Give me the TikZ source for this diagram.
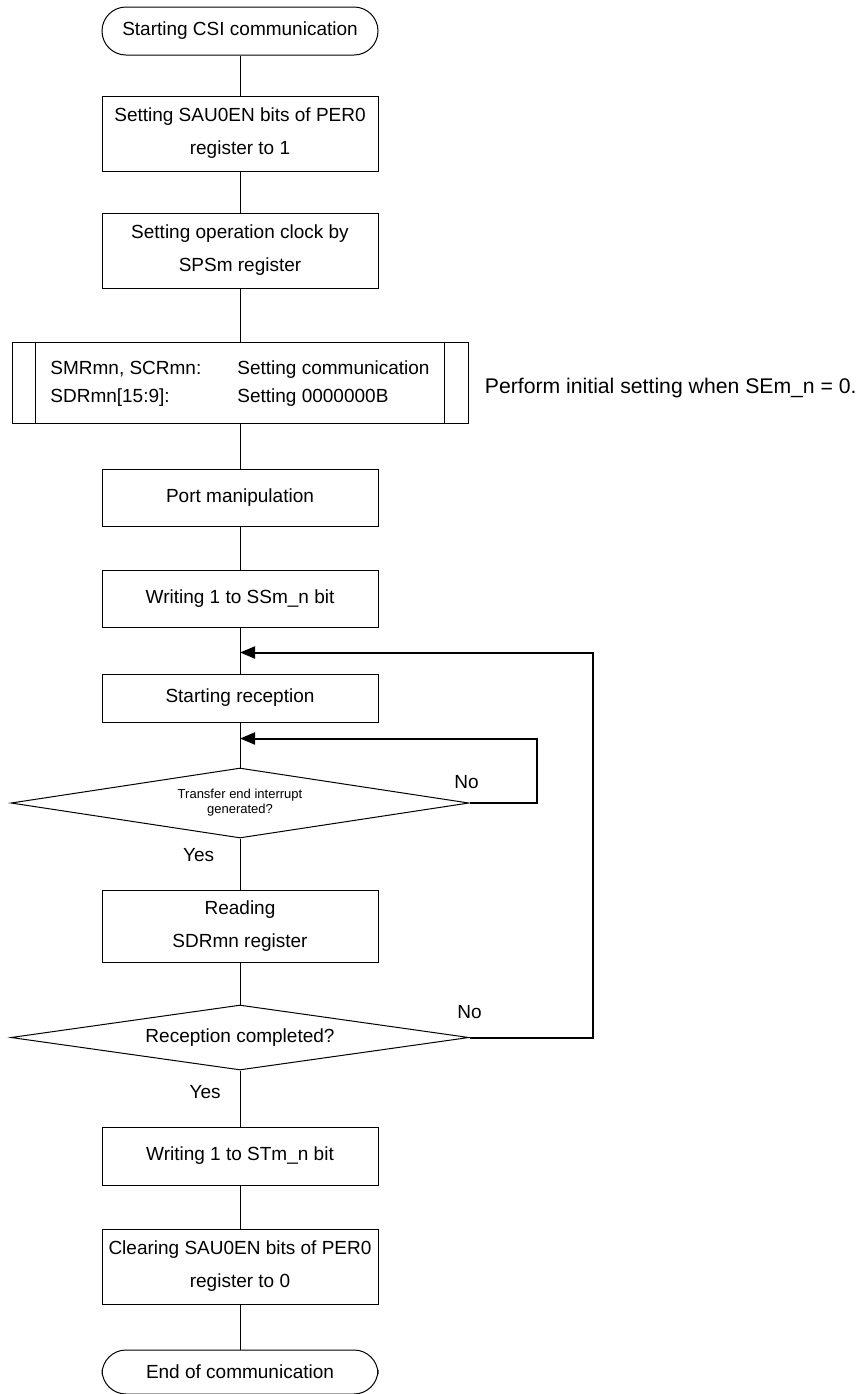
\documentclass[tikz,border=0pt]{standalone}
\usepackage{fontspec}
\setmainfont{Liberation Sans}
\usetikzlibrary{positioning,arrows.meta,shapes.geometric}

\begin{document}
\begin{tikzpicture}[x=0.5pt, y=0.5pt, node distance=22pt,
  box/.style={draw, line width=0.5pt, inner sep=0pt, minimum width=138pt, align=center, font=\fontsize{9.5}{16.5}\selectfont},
  term/.style={box, rounded corners=12pt, minimum height=24pt},
  dec/.style={draw, line width=0.5pt, diamond, aspect=7, inner sep=0pt, minimum width=229pt, align=center},
  lbl/.style={inner sep=0pt, font=\fontsize{9.5}{11}\selectfont},
  loopline/.style={line width=1pt, -{Triangle[length=7.5pt,width=6pt]}}]
\useasboundingbox (0,0) rectangle (861,-1394);

\node[term] (start) at (240,-31) {Starting CSI communication};
\node[box, minimum height=37.5pt, below=20pt of start] (per) {Setting SAU0EN bits of PER0\\register to 1};
\node[box, minimum height=37.5pt, below=20.5pt of per] (sps) {Setting operation clock by\\SPSm register};
\node[box, minimum width=228pt, minimum height=40.5pt, below=26.5pt of sps, font=\fontsize{9.5}{14}\selectfont] (init) {\begin{tabular}{@{}p{93.5pt}@{}l@{}}SMRmn, SCRmn: & Setting communication\\SDRmn[15:9]: & Setting 0000000B\end{tabular}};
\draw ([xshift=12pt]init.north west) -- ([xshift=12pt]init.south west);
\draw ([xshift=-12pt]init.north east) -- ([xshift=-12pt]init.south east);
\node[lbl, font=\fontsize{10.6}{12}\selectfont, right=8pt of init, yshift=-3pt] (note) {Perform initial setting when SEm\_n = 0.};
\node[box, minimum height=28.5pt, below=22.5pt of init] (port) {Port manipulation};
\node[box, minimum height=28.5pt, below=21.5pt of port] (ss) {Writing 1 to SSm\_n bit};
\node[box, minimum height=24pt, below=23pt of ss] (rx) {Starting reception};
\node[dec, minimum height=35pt, below=22.5pt of rx, font=\fontsize{6.5}{7.5}\selectfont] (tend) {Transfer end interrupt\\generated?};
\node[box, minimum height=36pt, below=25.5pt of tend] (read) {Reading\\SDRmn register};
\node[dec, minimum height=32.5pt, below=21pt of read, font=\fontsize{9.5}{11}\selectfont] (done) {Reception completed?};
\node[box, minimum height=29pt, below=28pt of done] (st) {Writing 1 to STm\_n bit};
\node[box, minimum height=37.5pt, below=21.5pt of st] (clr) {Clearing SAU0EN bits of PER0\\register to 0};
\node[term, minimum height=22pt, below=22.5pt of clr] (stop) {End of communication};

\draw[line width=0.5pt] (start) -- (per) -- (sps) -- (init) -- (port) -- (ss) -- (rx) -- (tend) -- (read) -- (done) -- (st) -- (clr) -- (stop);

% loops back to the main line
\coordinate (j1) at ([yshift=-12.5pt]ss.south);
\coordinate (j2) at ([yshift=-8pt]rx.south);
\draw[loopline] (tend.east) -- ++(33.5pt,0) |- (j2);
\draw[loopline] (done.east) -- ++(61.5pt,0) |- (j1);

\node[lbl, below left=5pt and 12.75pt of tend.south] (yes1) {Yes};
\node[lbl, below left=7.5pt and 9.5pt of done.south] (yes2) {Yes};
\node[lbl, above=7pt of tend.east, xshift=-1.5pt] (no1) {No};
\node[lbl, above=9pt of done.east] (no2) {No};
\end{tikzpicture}
\end{document}
